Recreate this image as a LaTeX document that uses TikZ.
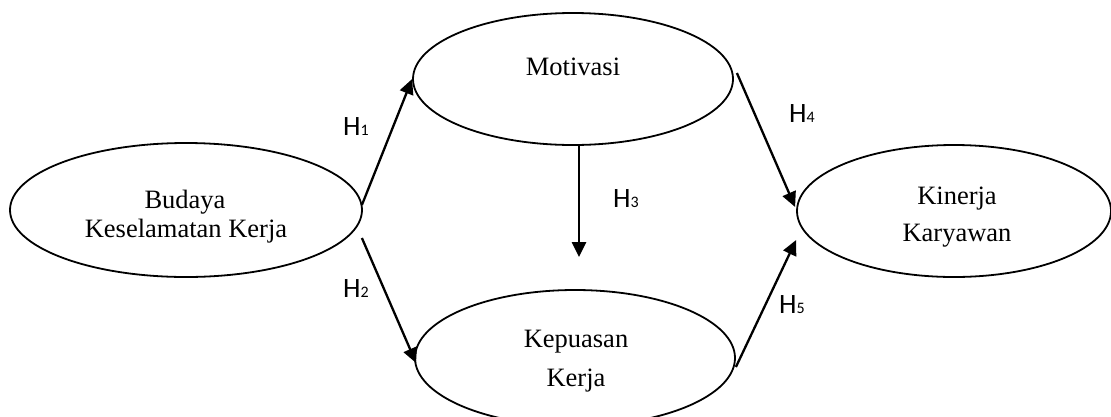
\documentclass[tikz,border=0pt]{standalone}
\usepackage{fontspec}
\setmainfont{Liberation Serif}
\newfontfamily\hypfont{Carlito}
\usetikzlibrary{shapes.geometric,arrows.meta,calc}
% small index digit of a hypothesis label
\newcommand\hidx[1]{{\fontsize{16}{16}\selectfont #1}}

\begin{document}
\begin{tikzpicture}[x=1pt,y=-1pt,
  construct/.style={ellipse, draw, line width=1.8pt, inner sep=0pt},
  link/.style={line width=2.3pt, -{Triangle[length=15pt,width=14pt]}},
  word/.style={anchor=base, inner sep=0pt, font=\fontsize{26.5}{30}\selectfont},
  hyp/.style={anchor=base west, inner sep=0pt, font=\hypfont\fontsize{28}{30}\selectfont}]

\useasboundingbox (0,0) rectangle (1111,416);

% constructs
\node[construct, minimum width=352pt, minimum height=134pt] (bud) at (186,210) {};
\node[construct, minimum width=320pt, minimum height=132pt] (mot) at (573,79) {};
\node[construct, minimum width=320pt, minimum height=136pt] (kep) at (575,358) {};
\node[construct, minimum width=314pt, minimum height=132pt] (kin) at (954,211) {};

% construct names
\node[word] (budA) at (185,208) {Budaya};
\node[word] (budB) at (186,237) {Keselamatan Kerja};
\node[word] (motA) at (573,75) {Motivasi};
\node[word] (kepA) at (576,347) {Kepuasan};
\node[word] (kepB) at (576,386) {Kerja};
\node[word] (kinA) at (957,204) {Kinerja};
\node[word] (kinB) at (957,241) {Karyawan};

% hypothesised paths
\coordinate (h3end) at ($(kep.north)+(4,-32)$);
\draw[link] ($(bud.east)+(-1,-5)$) -- (mot.west);
\draw[link] ($(bud.east)+(-1,28)$) -- ($(kep.west)+(2,5)$);
\draw[link] ($(mot.south)+(6,0)$) -- (h3end);
\draw[link] ($(mot.east)+(3,-6)$) -- ($(kin.west)+(-1,-4)$);
\draw[link] ($(kep.east)+(0,9)$) -- ($(kin.west)+(0,29)$);

% hypothesis labels
\node[hyp] (h1) at (343,135) {H\hidx{1}};
\node[hyp] (h2) at (343,297) {H\hidx{2}};
\node[hyp] (h3) at (613,207) {H\hidx{3}};
\node[hyp] (h4) at (789,122) {H\hidx{4}};
\node[hyp] (h5) at (779,313) {H\hidx{5}};
\end{tikzpicture}
\end{document}
